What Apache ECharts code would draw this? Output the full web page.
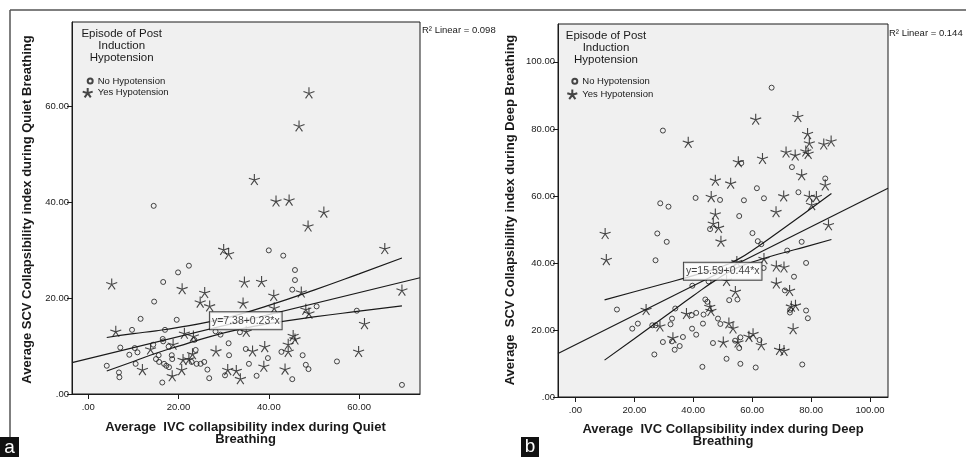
<!DOCTYPE html>
<html><head><meta charset="utf-8">
<script src="https://cdn.jsdelivr.net/npm/echarts@6/dist/echarts.min.js"></script>
<style>html,body{margin:0;padding:0;background:#fff}#c{width:966px;height:457px}</style>
</head><body><div id="c"></div>
<script>
// ---- Panel a: Quiet breathing ----
const quietNo = [[14.5,39.3],[40.0,30.0],[43.2,28.9],[22.3,26.8],[19.9,25.4],[45.8,25.9],[45.8,23.8],[16.6,23.4],[45.2,21.8],[14.6,19.3],[50.6,18.3],[11.6,15.7],[19.6,15.5],[59.5,17.4],[9.7,13.4],[17.0,13.4],[28.2,13.1],[33.6,12.9],[29.3,12.4],[16.5,11.5],[16.6,11.0],[23.5,11.3],[31.1,10.6],[7.1,9.7],[10.3,9.6],[14.4,10.3],[17.8,9.9],[23.8,9.2],[34.9,9.4],[10.9,8.7],[9.1,8.2],[15.6,8.1],[18.5,8.1],[31.2,8.1],[42.8,8.8],[47.5,8.1],[15.0,7.3],[18.6,7.3],[39.8,7.5],[55.1,6.8],[15.7,6.7],[16.8,6.3],[17.3,5.9],[17.9,5.6],[4.1,5.9],[10.5,6.3],[22.9,6.7],[24.0,6.3],[24.9,6.3],[25.7,6.7],[35.6,6.3],[48.2,6.1],[48.8,5.2],[6.8,4.5],[6.9,3.5],[26.4,5.1],[26.8,3.3],[30.3,3.9],[37.3,3.8],[45.2,3.1],[16.4,2.4],[69.5,1.9]];
const quietYes = [[48.9,62.9],[46.7,56.0],[36.8,44.8],[41.6,40.3],[44.5,40.5],[52.2,38.0],[48.7,35.1],[65.7,30.4],[30.0,30.2],[31.1,29.3],[5.2,23.0],[34.6,23.4],[38.4,23.5],[20.8,22.0],[69.5,21.7],[25.8,21.2],[47.2,21.3],[41.1,20.6],[24.8,19.2],[26.9,18.4],[34.3,19.0],[41.2,18.0],[48.2,17.7],[48.9,16.9],[61.2,14.7],[6.1,13.1],[21.3,12.7],[23.3,12.1],[35.0,13.1],[45.4,12.2],[45.8,11.5],[18.8,10.4],[13.8,9.4],[23.1,8.4],[28.3,9.0],[36.4,9.0],[39.1,9.9],[44.3,10.4],[44.3,8.9],[59.9,8.9],[21.0,7.2],[22.3,7.3],[38.9,5.8],[43.6,5.2],[12.0,5.1],[20.7,5.1],[30.9,5.1],[32.8,4.9],[33.7,3.2],[18.6,3.8]];
const quietFit = [[-3.6,6.55],[73.5,24.29]];
const quietUpper = [[4.1,11.8],[10,12.6],[15,13.2],[20,13.9],[27,15.1],[33,16.5],[40,18.5],[50,21.7],[60,25.1],[69.5,28.4]];
const quietLower = [[4.1,4.8],[10,6.8],[15,8.5],[20,10.0],[27,12.0],[33,13.4],[40,14.7],[50,16.1],[60,17.3],[69.5,18.4]];
const quietEq = 'y=7.38+0.23*x';
const quietEqAnchor = [34.9, 15.3];
const quietR2 = 'R\u00B2 Linear = 0.098';
const quietXTicks = [0, 20, 40, 60];
const quietYTicks = [0, 20, 40, 60];

// ---- Panel b: Deep breathing ----
const deepNo = [[66.6,92.3],[29.7,79.5],[56.3,69.8],[73.5,68.6],[84.8,65.2],[61.6,62.3],[75.7,61.1],[28.8,57.8],[31.6,56.8],[40.8,59.4],[49.1,58.8],[57.2,58.7],[64.0,59.3],[55.6,54.0],[27.8,48.8],[31.0,46.3],[45.7,50.1],[60.1,48.9],[61.9,46.5],[63.1,45.6],[76.8,46.3],[71.9,43.7],[27.2,40.8],[78.3,40.0],[63.9,38.5],[74.2,35.9],[39.7,33.2],[45.2,34.5],[71.1,31.8],[72.9,26.0],[72.8,25.2],[78.3,25.8],[78.9,23.5],[52.2,28.9],[55.0,29.1],[14.1,26.1],[33.9,26.4],[44.1,29.1],[44.8,28.4],[41.0,25.1],[39.5,24.4],[43.5,24.6],[48.4,23.4],[32.8,23.4],[49.2,21.8],[43.3,21.9],[27.2,21.4],[26.1,21.4],[32.3,21.7],[21.2,21.9],[19.3,20.4],[39.6,20.4],[41.0,18.6],[36.5,17.9],[29.7,16.4],[32.8,16.6],[35.4,15.2],[33.7,14.1],[54.2,16.8],[56.0,17.8],[55.6,14.6],[62.5,17.0],[46.7,16.1],[26.8,12.7],[51.3,11.4],[43.1,9.0],[56.0,9.9],[61.2,8.8],[77.0,9.7]];
const deepYes = [[61.2,82.9],[75.5,83.7],[38.3,76.0],[78.8,78.6],[79.4,75.8],[84.3,75.5],[86.8,76.4],[78.2,73.4],[79.0,72.7],[71.5,73.1],[74.6,72.2],[63.5,71.2],[55.3,70.2],[76.8,66.3],[47.5,64.7],[52.7,63.8],[84.8,63.3],[46.1,59.8],[70.7,60.0],[79.4,59.9],[81.8,59.8],[80.2,57.4],[68.1,55.3],[47.5,54.6],[46.8,51.8],[48.6,50.6],[85.9,51.4],[49.4,46.5],[10.1,48.8],[10.5,41.0],[64.0,41.3],[54.8,40.4],[68.2,39.1],[70.8,38.8],[68.2,34.0],[72.7,31.8],[54.3,31.5],[51.3,34.8],[73.3,27.1],[74.7,27.4],[73.9,20.4],[24.0,26.1],[28.7,21.2],[37.7,24.9],[45.6,27.0],[46.0,25.8],[33.1,17.7],[52.1,22.1],[53.5,20.6],[50.2,16.4],[55.2,16.4],[58.9,18.1],[60.3,18.9],[63.1,15.6],[69.3,14.2],[70.8,13.9]];
const deepFit = [[-5.9,12.99],[106.1,62.27]];
const deepUpper = [[9.9,29.0],[20,31.4],[30,33.8],[40,36.2],[48,38.4],[55,41.0],[62,44.9],[70,49.9],[78,55.0],[86.9,60.7]];
const deepLower = [[9.9,11.0],[20,17.4],[30,23.8],[40,30.2],[48,35.1],[55,38.6],[62,40.8],[70,42.9],[78,44.8],[86.9,47.0]];
const deepEq = 'y=15.59+0.44*x';
const deepEqAnchor = [50.0, 37.5];
const deepR2 = 'R\u00B2 Linear = 0.144';
const deepXTicks = [0, 20, 40, 60, 80, 100];
const deepYTicks = [0, 20, 40, 60, 80, 100];

const legendTitle = 'Episode of Post\nInduction\nHypotension';
const nameNo = 'No Hypotension', nameYes = 'Yes Hypotension';

const FONT = "'Liberation Sans', Arial, sans-serif";
const INK = '#1a1a1a';
const STAR = 'path://M0,-10L0,0L9.51,-3.09M0,0L5.88,8.09M0,0L-5.88,8.09M0,0L-9.51,-3.09';
const fmt = v => v === 0 ? '.00' : v.toFixed(2);

function axis(gi, min, max, ticks, isX) {
  return {
    type: 'value', gridIndex: gi, min: min, max: max,
    splitLine: { show: false },
    axisLine: { show: true, onZero: false, lineStyle: { color: INK, width: 1 } },
    axisTick: { show: true, length: 5, customValues: ticks, lineStyle: { color: INK } },
    axisLabel: { customValues: ticks, formatter: fmt, fontFamily: FONT, fontSize: 9.5, color: INK, margin: isX ? 8 : 3 }
  };
}
function pts(name, data, gi, isStar) {
  return {
    type: 'scatter', name: name, xAxisIndex: gi, yAxisIndex: gi, data: data,
    symbol: isStar ? STAR : 'circle', symbolSize: isStar ? 11 : 5,
    itemStyle: { color: 'rgba(0,0,0,0)', borderColor: INK, borderWidth: isStar ? 1.1 : 1 },
    silent: true, z: 3
  };
}
function line(data, gi, smooth) {
  return {
    type: 'line', xAxisIndex: gi, yAxisIndex: gi, data: data, smooth: smooth,
    showSymbol: false, symbol: 'none', lineStyle: { color: INK, width: 1.2 }, silent: true, z: 4
  };
}
function eqLabel(text, anchor, gi) {
  return {
    type: 'scatter', xAxisIndex: gi, yAxisIndex: gi, data: [anchor], symbolSize: 1,
    itemStyle: { color: 'rgba(0,0,0,0)' }, silent: true, z: 10,
    label: { show: true, position: 'inside', formatter: text, backgroundColor: '#fff', borderColor: INK, borderWidth: 1,
      padding: [2, 2, 2, 2], lineHeight: 13, fontFamily: FONT, fontSize: 10.5, color: '#111' }
  };
}
function legend(name, left, top, size) {
  return { data: [name], left: left, top: top, orient: 'vertical', itemWidth: size, itemHeight: size, itemGap: 0,
    selectedMode: false, textStyle: { fontFamily: FONT, fontSize: 9.5, color: INK, lineHeight: 12 } };
}

const chart = echarts.init(document.getElementById('c'), null, { renderer: 'canvas' });
chart.setOption({
  animation: false,
  backgroundColor: '#fff',
  grid: [
    { left: 72, top: 22, width: 348, height: 372, show: true, backgroundColor: '#f0f0f0', borderColor: INK, borderWidth: 1 },
    { left: 558, top: 24, width: 330, height: 373, show: true, backgroundColor: '#f0f0f0', borderColor: INK, borderWidth: 1 }
  ],
  xAxis: [axis(0, -3.6, 73.5, quietXTicks, true), axis(1, -5.9, 106.1, deepXTicks, true)],
  yAxis: [axis(0, 0, 77.7, quietYTicks, false), axis(1, 0, 111.3, deepYTicks, false)],
  legend: [
    legend(nameNo, 81.7, 70, 5), legend(nameYes, 76.7, 81.7, 10),
    legend(nameNo, 566.3, 70.3, 5), legend(nameYes, 561.3, 83.3, 10)
  ],
  series: [
    pts(nameNo, quietNo, 0, false), pts(nameYes, quietYes, 0, true),
    line(quietFit, 0, false), line(quietUpper, 0, true), line(quietLower, 0, true),
    eqLabel(quietEq, quietEqAnchor, 0),
    pts(nameNo, deepNo, 1, false), pts(nameYes, deepYes, 1, true),
    line(deepFit, 1, false), line(deepUpper, 1, true), line(deepLower, 1, true),
    eqLabel(deepEq, deepEqAnchor, 1)
  ],
  graphic: [
    { type: 'line', shape: { x1: 10, y1: 10, x2: 966, y2: 10 }, style: { stroke: '#555', lineWidth: 1.5 }, silent: true },
    { type: 'line', shape: { x1: 10, y1: 10, x2: 10, y2: 437 }, style: { stroke: '#555', lineWidth: 1.5 }, silent: true },
    { type: 'text', x: 121.7, y: 28, silent: true, style: { text: legendTitle, align: 'center', verticalAlign: 'top', font: '11.5px ' + FONT, lineHeight: 11.8, fill: INK } },
    { type: 'text', x: 606, y: 30, silent: true, style: { text: legendTitle, align: 'center', verticalAlign: 'top', font: '11.5px ' + FONT, lineHeight: 11.8, fill: INK } },
    { type: 'text', x: 422, y: 30, silent: true, style: { text: quietR2, align: 'left', verticalAlign: 'middle', font: '9.5px ' + FONT, fill: INK } },
    { type: 'text', x: 889, y: 33, silent: true, style: { text: deepR2, align: 'left', verticalAlign: 'middle', font: '9.5px ' + FONT, fill: INK } },
    { type: 'text', x: 27.5, y: 209.5, rotation: Math.PI / 2, silent: true, style: { text: 'Average SCV Collapsibility index during Quiet Breathing', align: 'center', verticalAlign: 'middle', font: 'bold 13px ' + FONT, fill: INK } },
    { type: 'text', x: 510, y: 210, rotation: Math.PI / 2, silent: true, style: { text: 'Average  SCV Collapsibility index during Deep Breathing', align: 'center', verticalAlign: 'middle', font: 'bold 13px ' + FONT, fill: INK } },
    { type: 'text', x: 245.5, y: 421, silent: true, style: { text: 'Average  IVC collapsibility index during Quiet\nBreathing', align: 'center', verticalAlign: 'top', font: 'bold 13px ' + FONT, lineHeight: 12.5, fill: INK } },
    { type: 'text', x: 723, y: 423, silent: true, style: { text: 'Average  IVC Collapsibility index during Deep\nBreathing', align: 'center', verticalAlign: 'top', font: 'bold 13px ' + FONT, lineHeight: 12.5, fill: INK } },
    { type: 'rect', shape: { x: 0, y: 437, width: 19, height: 20 }, style: { fill: '#111' }, silent: true },
    { type: 'text', x: 9.5, y: 448, silent: true, style: { text: 'a', align: 'center', verticalAlign: 'middle', font: '19px ' + FONT, fill: '#fff' } },
    { type: 'rect', shape: { x: 521, y: 437, width: 18, height: 20 }, style: { fill: '#111' }, silent: true },
    { type: 'text', x: 530, y: 447, silent: true, style: { text: 'b', align: 'center', verticalAlign: 'middle', font: '19px ' + FONT, fill: '#fff' } }
  ]
});
</script></body></html>
